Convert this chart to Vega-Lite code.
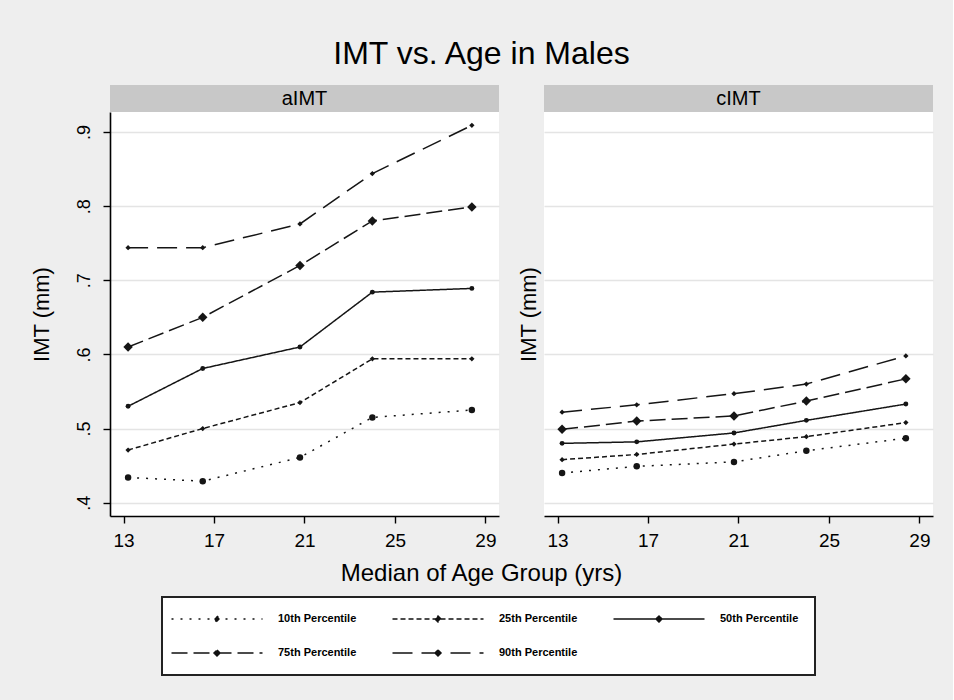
{
  "$schema": "https://vega.github.io/schema/vega-lite/v6.json",
  "background": "#eeeeee",
  "padding": {"left": 30, "top": 38, "right": 20, "bottom": 24},
  "config": {
    "font": "Liberation Sans",
    "view": {"stroke": null},
    "axis": {
      "labelColor": "#000000",
      "titleColor": "#000000",
      "domainColor": "#000000",
      "tickColor": "#000000",
      "domainWidth": 1.6,
      "tickWidth": 1.4,
      "titleFontWeight": "normal",
      "labelFont": "Liberation Sans",
      "titleFont": "Liberation Sans"
    },
    "legend": {
      "title": null, "orient": "none", "legendX": 52, "legendY": 512,
      "direction": "horizontal", "columns": 3,
      "fillColor": "#ffffff", "strokeColor": "#222222", "strokeWidth": 2, "padding": 16,
      "labelFont": "Liberation Sans Narrow, Liberation Sans", "labelFontSize": 11, "labelFontWeight": "bold", "labelColor": "#000000",
      "symbolType": "M-9.1,0H9.1M0,-0.6L0.6,0L0,0.6L-0.6,0Z",
      "symbolSize": 100, "symbolOffset": 33, "labelOffset": 55, "columnPadding": 32, "rowPadding": 22,
      "symbolStrokeWidth": 1.5, "symbolFillColor": "#111111", "symbolStrokeColor": "#111111"
    },
    "title": {"font": "Liberation Sans", "fontWeight": "normal", "color": "#000000"}
  },
  "title": {"text": "IMT vs. Age in Males", "fontSize": 32, "anchor": "middle", "offset": 14},
  "datasets": {
    "imt": [
      {"panel": "aIMT", "pct": "10th Percentile", "age": 13.2, "imt": 0.434},
      {"panel": "aIMT", "pct": "10th Percentile", "age": 16.5, "imt": 0.429},
      {"panel": "aIMT", "pct": "10th Percentile", "age": 20.8, "imt": 0.461},
      {"panel": "aIMT", "pct": "10th Percentile", "age": 24.0, "imt": 0.515},
      {"panel": "aIMT", "pct": "10th Percentile", "age": 28.4, "imt": 0.525},
      {"panel": "aIMT", "pct": "25th Percentile", "age": 13.2, "imt": 0.471},
      {"panel": "aIMT", "pct": "25th Percentile", "age": 16.5, "imt": 0.500},
      {"panel": "aIMT", "pct": "25th Percentile", "age": 20.8, "imt": 0.535},
      {"panel": "aIMT", "pct": "25th Percentile", "age": 24.0, "imt": 0.594},
      {"panel": "aIMT", "pct": "25th Percentile", "age": 28.4, "imt": 0.594},
      {"panel": "aIMT", "pct": "50th Percentile", "age": 13.2, "imt": 0.530},
      {"panel": "aIMT", "pct": "50th Percentile", "age": 16.5, "imt": 0.581},
      {"panel": "aIMT", "pct": "50th Percentile", "age": 20.8, "imt": 0.610},
      {"panel": "aIMT", "pct": "50th Percentile", "age": 24.0, "imt": 0.684},
      {"panel": "aIMT", "pct": "50th Percentile", "age": 28.4, "imt": 0.689},
      {"panel": "aIMT", "pct": "75th Percentile", "age": 13.2, "imt": 0.610},
      {"panel": "aIMT", "pct": "75th Percentile", "age": 16.5, "imt": 0.650},
      {"panel": "aIMT", "pct": "75th Percentile", "age": 20.8, "imt": 0.720},
      {"panel": "aIMT", "pct": "75th Percentile", "age": 24.0, "imt": 0.780},
      {"panel": "aIMT", "pct": "75th Percentile", "age": 28.4, "imt": 0.799},
      {"panel": "aIMT", "pct": "90th Percentile", "age": 13.2, "imt": 0.744},
      {"panel": "aIMT", "pct": "90th Percentile", "age": 16.5, "imt": 0.744},
      {"panel": "aIMT", "pct": "90th Percentile", "age": 20.8, "imt": 0.776},
      {"panel": "aIMT", "pct": "90th Percentile", "age": 24.0, "imt": 0.844},
      {"panel": "aIMT", "pct": "90th Percentile", "age": 28.4, "imt": 0.909},
      {"panel": "cIMT", "pct": "10th Percentile", "age": 13.2, "imt": 0.440},
      {"panel": "cIMT", "pct": "10th Percentile", "age": 16.5, "imt": 0.449},
      {"panel": "cIMT", "pct": "10th Percentile", "age": 20.8, "imt": 0.455},
      {"panel": "cIMT", "pct": "10th Percentile", "age": 24.0, "imt": 0.470},
      {"panel": "cIMT", "pct": "10th Percentile", "age": 28.4, "imt": 0.487},
      {"panel": "cIMT", "pct": "25th Percentile", "age": 13.2, "imt": 0.458},
      {"panel": "cIMT", "pct": "25th Percentile", "age": 16.5, "imt": 0.465},
      {"panel": "cIMT", "pct": "25th Percentile", "age": 20.8, "imt": 0.479},
      {"panel": "cIMT", "pct": "25th Percentile", "age": 24.0, "imt": 0.489},
      {"panel": "cIMT", "pct": "25th Percentile", "age": 28.4, "imt": 0.508},
      {"panel": "cIMT", "pct": "50th Percentile", "age": 13.2, "imt": 0.480},
      {"panel": "cIMT", "pct": "50th Percentile", "age": 16.5, "imt": 0.482},
      {"panel": "cIMT", "pct": "50th Percentile", "age": 20.8, "imt": 0.494},
      {"panel": "cIMT", "pct": "50th Percentile", "age": 24.0, "imt": 0.511},
      {"panel": "cIMT", "pct": "50th Percentile", "age": 28.4, "imt": 0.533},
      {"panel": "cIMT", "pct": "75th Percentile", "age": 13.2, "imt": 0.499},
      {"panel": "cIMT", "pct": "75th Percentile", "age": 16.5, "imt": 0.510},
      {"panel": "cIMT", "pct": "75th Percentile", "age": 20.8, "imt": 0.517},
      {"panel": "cIMT", "pct": "75th Percentile", "age": 24.0, "imt": 0.537},
      {"panel": "cIMT", "pct": "75th Percentile", "age": 28.4, "imt": 0.567},
      {"panel": "cIMT", "pct": "90th Percentile", "age": 13.2, "imt": 0.522},
      {"panel": "cIMT", "pct": "90th Percentile", "age": 16.5, "imt": 0.532},
      {"panel": "cIMT", "pct": "90th Percentile", "age": 20.8, "imt": 0.547},
      {"panel": "cIMT", "pct": "90th Percentile", "age": 24.0, "imt": 0.560},
      {"panel": "cIMT", "pct": "90th Percentile", "age": 28.4, "imt": 0.598}
    ]
  },
  "vconcat": [
    {
      "title": {"text": "Median of Age Group (yrs)", "orient": "bottom", "fontSize": 24, "anchor": "middle", "offset": 12},
      "spacing": 18,
      "hconcat": [
        {
          "spacing": 0,
          "vconcat": [
            {
              "width": 389, "height": 27,
              "view": {"fill": "#c8c8c8", "stroke": null},
              "data": {"values": [{"label": "aIMT"}]},
              "mark": {"type": "text", "fontSize": 20, "color": "#000000"},
              "encoding": {"text": {"field": "label", "type": "nominal"}}
            },
            {
              "width": 389, "height": 404,
              "view": {"fill": "#ffffff", "stroke": null},
              "data": {"name": "imt"},
              "transform": [{"filter": "datum.panel === 'aIMT'"}],
              "encoding": {
                "x": {"field": "age", "type": "quantitative", "scale": {"domain": [12.4, 29.6], "nice": false, "zero": false},
                      "axis": {"title": null, "values": [13, 17, 21, 25, 29], "grid": false, "tickSize": 7, "labelFontSize": 19, "labelPadding": 8}},
                "y": {"field": "imt", "type": "quantitative", "scale": {"domain": [0.382, 0.927], "nice": false, "zero": false},
                      "axis": {"title": "IMT (mm)", "titleFontSize": 22, "titlePadding": 22, "values": [0.4, 0.5, 0.6, 0.7, 0.8, 0.9],
                               "labelExpr": "slice(format(datum.value, '.1f'), 1)", "labelAngle": -90, "labelAlign": "center", "labelBaseline": "bottom",
                               "labelFontSize": 18, "labelPadding": 10, "tickSize": 7, "grid": true, "gridColor": "#e4e4e4", "gridWidth": 1.5}}
              },
              "layer": [
                {
                  "mark": {"type": "line", "color": "#151515", "strokeWidth": 1.5},
                  "encoding": {
                    "strokeDash": {"field": "pct", "type": "nominal",
                      "scale": {"domain": ["10th Percentile", "25th Percentile", "50th Percentile", "75th Percentile", "90th Percentile"],
                                "range": [[2, 7], [5, 3], [1, 0], [16, 6], [20, 9]]}}
                  }
                },
                {
                  "transform": [{"filter": "datum.pct === '10th Percentile'"}],
                  "mark": {"type": "point", "filled": true, "shape": "circle", "size": 42, "color": "#151515", "opacity": 1}
                },
                {
                  "transform": [{"filter": "datum.pct === '50th Percentile'"}],
                  "mark": {"type": "point", "filled": true, "shape": "circle", "size": 24, "color": "#151515", "opacity": 1}
                },
                {
                  "transform": [{"filter": "datum.pct === '25th Percentile' || datum.pct === '90th Percentile'"}],
                  "mark": {"type": "point", "filled": true, "shape": "diamond", "size": 28, "color": "#151515", "opacity": 1}
                },
                {
                  "transform": [{"filter": "datum.pct === '75th Percentile'"}],
                  "mark": {"type": "point", "filled": true, "shape": "diamond", "size": 90, "color": "#151515", "opacity": 1}
                }
              ]
            }
          ]
        },
        {
          "spacing": 0,
          "vconcat": [
            {
              "width": 389, "height": 27,
              "view": {"fill": "#c8c8c8", "stroke": null},
              "data": {"values": [{"label": "cIMT"}]},
              "mark": {"type": "text", "fontSize": 20, "color": "#000000"},
              "encoding": {"text": {"field": "label", "type": "nominal"}}
            },
            {
              "width": 389, "height": 404,
              "view": {"fill": "#ffffff", "stroke": null},
              "data": {"name": "imt"},
              "transform": [{"filter": "datum.panel === 'cIMT'"}],
              "encoding": {
                "x": {"field": "age", "type": "quantitative", "scale": {"domain": [12.4, 29.6], "nice": false, "zero": false},
                      "axis": {"title": null, "values": [13, 17, 21, 25, 29], "grid": false, "tickSize": 7, "labelFontSize": 19, "labelPadding": 8}},
                "y": {"field": "imt", "type": "quantitative", "scale": {"domain": [0.382, 0.927], "nice": false, "zero": false},
                      "axis": {"title": "IMT (mm)", "titleFontSize": 22, "titlePadding": 4, "values": [0.4, 0.5, 0.6, 0.7, 0.8, 0.9],
                               "labels": false, "ticks": false, "domain": false, "grid": true, "gridColor": "#e4e4e4", "gridWidth": 1.5}}
              },
              "layer": [
                {
                  "mark": {"type": "line", "color": "#151515", "strokeWidth": 1.5},
                  "encoding": {
                    "strokeDash": {"field": "pct", "type": "nominal",
                      "scale": {"domain": ["10th Percentile", "25th Percentile", "50th Percentile", "75th Percentile", "90th Percentile"],
                                "range": [[2, 7], [5, 3], [1, 0], [16, 6], [20, 9]]}}
                  }
                },
                {
                  "transform": [{"filter": "datum.pct === '10th Percentile'"}],
                  "mark": {"type": "point", "filled": true, "shape": "circle", "size": 42, "color": "#151515", "opacity": 1}
                },
                {
                  "transform": [{"filter": "datum.pct === '50th Percentile'"}],
                  "mark": {"type": "point", "filled": true, "shape": "circle", "size": 24, "color": "#151515", "opacity": 1}
                },
                {
                  "transform": [{"filter": "datum.pct === '25th Percentile' || datum.pct === '90th Percentile'"}],
                  "mark": {"type": "point", "filled": true, "shape": "diamond", "size": 28, "color": "#151515", "opacity": 1}
                },
                {
                  "transform": [{"filter": "datum.pct === '75th Percentile'"}],
                  "mark": {"type": "point", "filled": true, "shape": "diamond", "size": 90, "color": "#151515", "opacity": 1}
                }
              ]
            }
          ]
        }
      ]
    }
  ]
}
